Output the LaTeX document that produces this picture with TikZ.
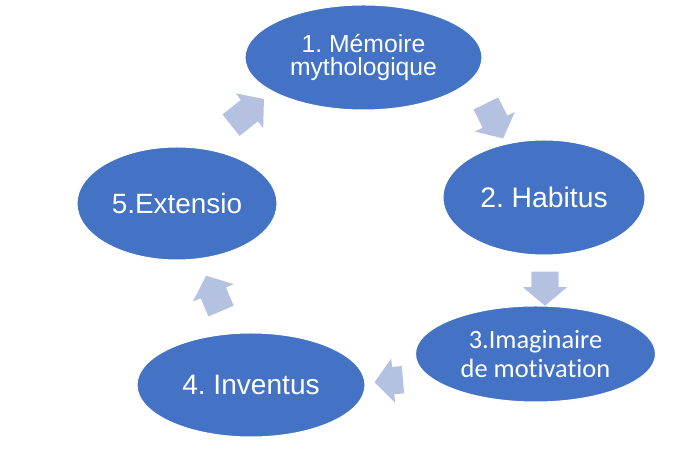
\documentclass[tikz,border=0pt]{standalone}
\usepackage{fontspec}
\setmainfont{Liberation Sans}
\newfontfamily\carlito[Ligatures=NoCommon]{Carlito}
\frenchspacing
\usetikzlibrary{shapes.geometric,shapes.arrows}
\definecolor{stepblue}{HTML}{4472C4}
\definecolor{arrowblue}{RGB}{180,193,225}
\tikzset{
	stage/.style={ellipse, fill=stepblue, draw=white, line width=1bp, text=white, align=center, inner sep=0pt},
	cyclearrow/.style={single arrow, fill=arrowblue, inner xsep=0pt, inner ysep=13.5bp,
		single arrow head extend=8.5bp, single arrow tip angle=100},
}
\begin{document}
\begin{tikzpicture}[x=1bp, y=1bp]
		%%%%% START %%%%%
		\useasboundingbox (0, 0) rectangle (692, 455);
		
		\node[stage, minimum width=237bp, minimum height=105bp, font=\fontsize{24.8}{23.5}\selectfont] (memoire) at (363.5, 397.5)
			{1. Mémoire\\mythologique};
		\node[stage, minimum width=202bp, minimum height=115bp, font=\fontsize{28.4}{30}\selectfont] (habitus) at (544, 257.5)
			{2. Habitus};
		\node[stage, minimum width=240bp, minimum height=96bp, font=\carlito\fontsize{26.5}{29.5}\selectfont] (imaginaire) at (535.5, 101)
			{3.Imaginaire\\de motivation};
		\node[stage, minimum width=228bp, minimum height=104bp, font=\fontsize{28.2}{30}\selectfont] (inventus) at (251, 70)
			{4. Inventus};
		\node[stage, minimum width=200bp, minimum height=113bp, font=\fontsize{28}{30}\selectfont] (extensio) at (177, 251.5)
			{5.Extensio};
		
		\node[cyclearrow, minimum height=42bp, rotate=38.5] (arrowA) at (243, 339.3) {};
		\node[cyclearrow, minimum height=39bp, rotate=-63.7] (arrowB) at (492, 339.2) {};
		\node[cyclearrow, minimum height=34bp, rotate=-90] (arrowC) at (545, 172) {};
		\node[cyclearrow, minimum height=28.4bp, rotate=185] (arrowD) at (394.5, 74.5) {};
		\node[cyclearrow, minimum height=38.4bp, rotate=113] (arrowE) at (215.8, 156.3) {};
		%%%%% END %%%%%
	\end{tikzpicture}
\end{document}
